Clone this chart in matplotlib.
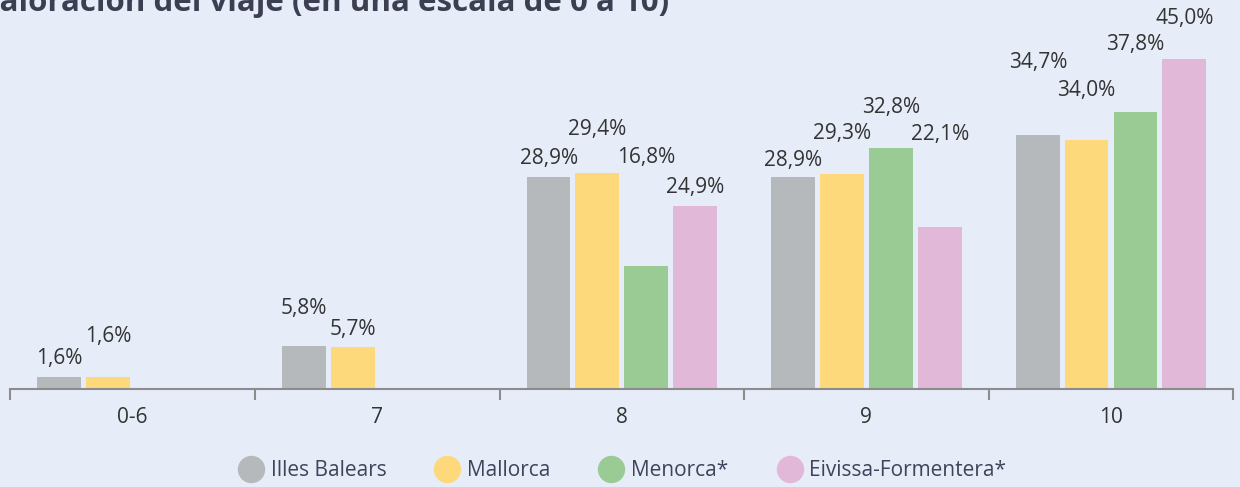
import numpy as np
import matplotlib
matplotlib.use("Agg")
import matplotlib.pyplot as plt
from matplotlib.lines import Line2D

# Datos (porcentajes)
categorias = ["0-6", "7", "8", "9", "10"]
series = ["Illes Balears", "Mallorca", "Menorca*", "Eivissa-Formentera*"]
illes_balears = [1.6, 5.8, 28.9, 28.9, 34.7]
mallorca = [1.6, 5.7, 29.4, 29.3, 34.0]
menorca = [np.nan, np.nan, 16.8, 32.8, 37.8]
eivissa = [np.nan, np.nan, 24.9, 22.1, 45.0]
valores = [illes_balears, mallorca, menorca, eivissa]

TITULO = "Valoración del viaje (en una escala de 0 a 10)"

# Estilo
BG = "#E6ECF8"
COLORES = ["#B6B9BC", "#FED97C", "#9BCB94", "#E1B8D8"]
TXT = "#333333"
TXT_LEG = "#40435A"
FONT = "Open Sans"

# Elevación de cada etiqueta sobre su barra (px), por serie y categoría
ELEV = [
    [19, 38, 19, 17, 72],
    [41, 18, 44, 41, 49],
    [0, 0, 108, 41, 67],
    [0, 0, 19, 92, 41],
]

W, H = 1240, 487
plt.rcParams["font.family"] = [FONT, "DejaVu Sans"]

fig = plt.figure(figsize=(W / 100, H / 100), dpi=100, facecolor=BG)
YMAX = 52
ax = fig.add_axes([10.3 / W, (H - 389) / H, 1223 / W, YMAX * 7.333 / H])
ax.set_facecolor(BG)

x = np.arange(len(categorias))
paso, ancho = 0.1996, 0.179
for i, (nombre, vals) in enumerate(zip(series, valores)):
    xs = x + (i - 1.5) * paso
    ax.bar(xs, vals, width=ancho, color=COLORES[i], label=nombre, zorder=2)
    for j, v in enumerate(vals):
        if np.isnan(v):
            continue
        ax.annotate(f"{v:.1f}%".replace(".", ","), (xs[j], v),
                    xytext=(0, ELEV[i][j] * 0.72), textcoords="offset points",
                    ha="center", va="center", fontsize=15, color=TXT,
                    annotation_clip=False)

ax.set_xlim(-0.5, len(categorias) - 0.5)
ax.set_ylim(0, YMAX)
ax.set_xticks(x)
ax.set_xticklabels(categorias, fontsize=15, color=TXT)
ax.set_xticks(np.arange(len(categorias) + 1) - 0.5, minor=True)
ax.tick_params(axis="x", which="major", length=0, pad=13)
ax.tick_params(axis="x", which="minor", length=8, width=1.5, color="#8C8C8C",
               direction="out")
ax.set_yticks([])
for s in ["top", "left", "right"]:
    ax.spines[s].set_visible(False)
ax.spines["bottom"].set_color("#8C8C8C")
ax.spines["bottom"].set_linewidth(1.5)

# Título recortado por la izquierda y por arriba, como en el original
TSIZE = 22.5
tmp = fig.text(0, 0, "V", fontsize=TSIZE, fontweight="bold")
fig.canvas.draw()
wv = tmp.get_window_extent().width
tmp.remove()
fig.text(-wv / W, 1 - 11 / H, TITULO, fontsize=TSIZE, fontweight="bold",
         color="#3C3F52", ha="left", va="baseline")

handles = [Line2D([], [], marker="o", linestyle="none", markersize=18.7,
                  markerfacecolor=c, markeredgecolor=c) for c in COLORES]
leg = fig.legend(handles, series, loc="center", bbox_to_anchor=(622 / W, 1 - 470.7 / H),
                 ncol=4, frameon=False, fontsize=15, handlelength=1.25,
                 handletextpad=0.33, columnspacing=2.3, borderaxespad=0)
for t in leg.get_texts():
    t.set_color(TXT_LEG)

fig.savefig("out.png", dpi=100, facecolor=BG)
